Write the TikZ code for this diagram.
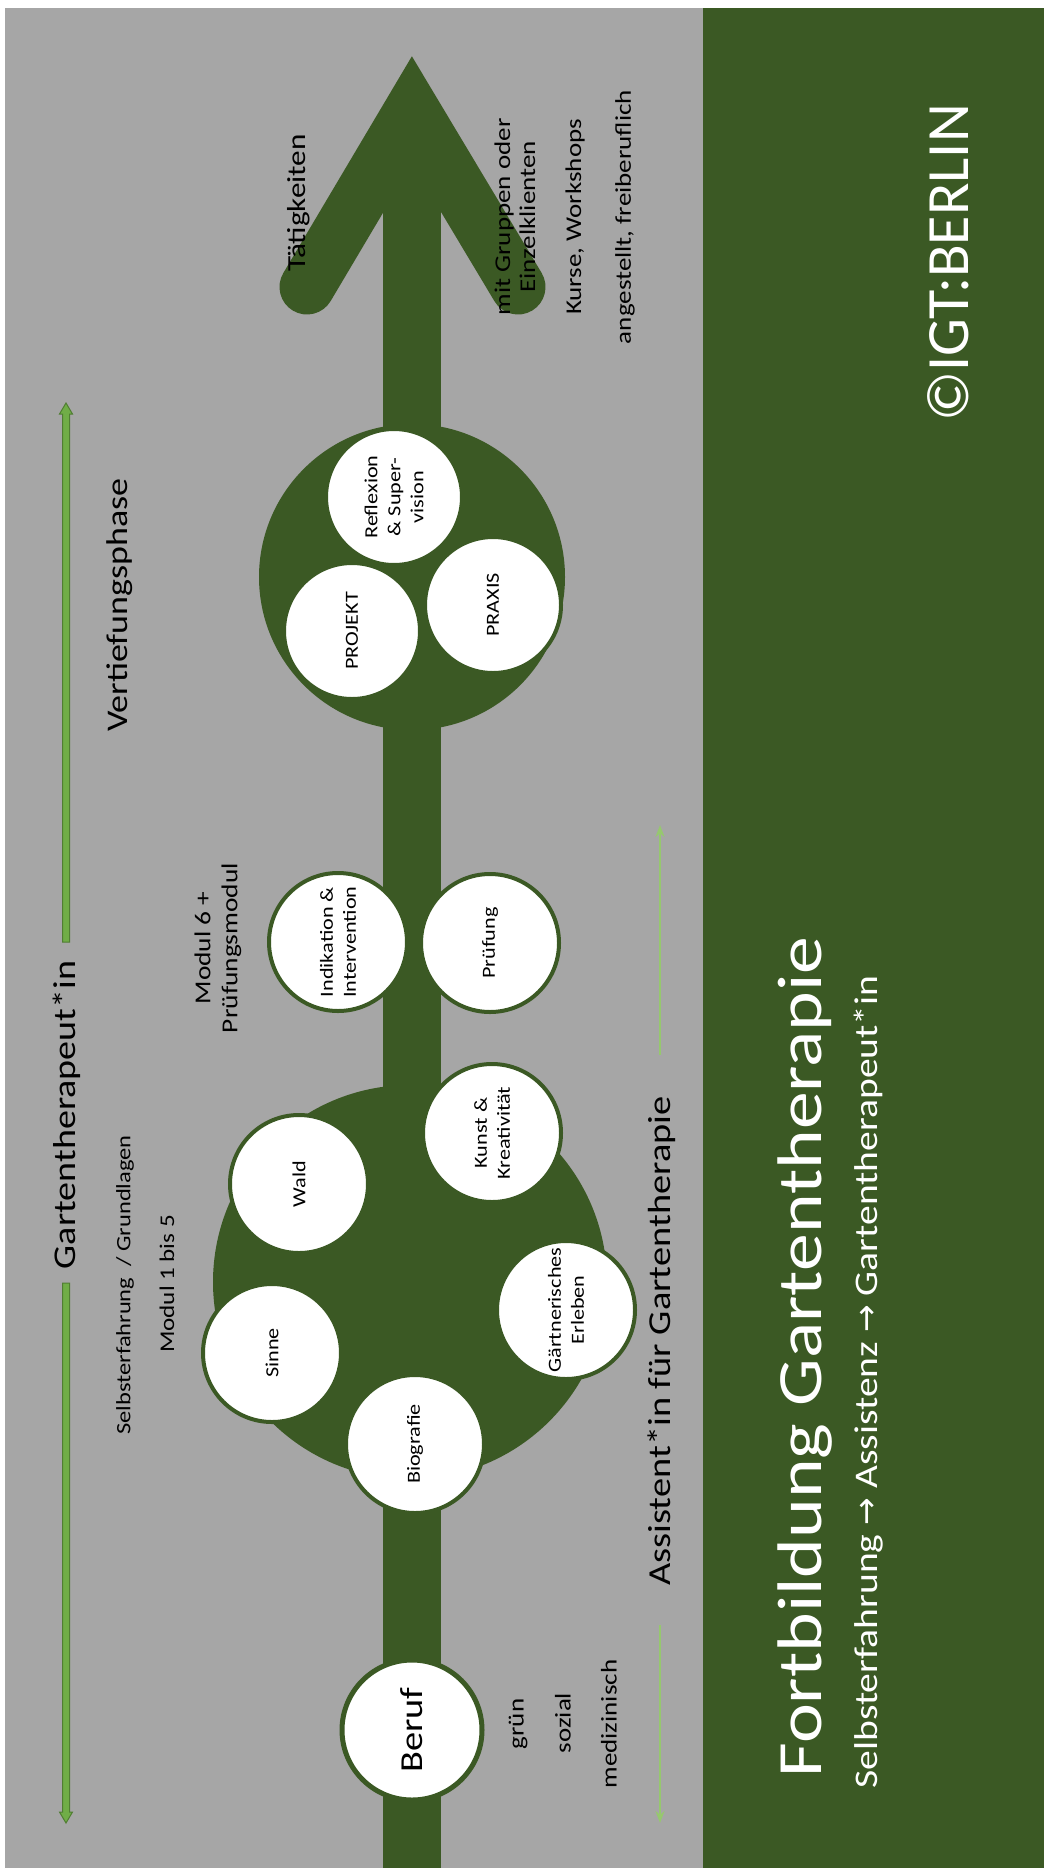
\documentclass[tikz,border=0pt]{standalone}
\usepackage{fontspec}
\setmainfont{Carlito}[FakeStretch=1.2]
\newfontfamily\plainfont{Carlito}
\newfontfamily\arrowfont{DejaVu Sans}
\usetikzlibrary{arrows.meta}
\definecolor{dkgreen}{RGB}{59,89,36}
\definecolor{bggray}{RGB}{166,166,166}
\definecolor{arrlight}{RGB}{112,173,71}
\definecolor{arrdark}{RGB}{80,126,50}
\definecolor{thinarr}{RGB}{150,200,110}
\begin{document}
\begin{tikzpicture}[x=1pt,y=-1pt,
  bigc/.style={circle, fill=dkgreen, inner sep=0pt},
  modc/.style={circle, fill=white, draw=dkgreen, line width=4pt, minimum size=138pt, inner sep=0pt, rotate=90, align=center, font=\fontsize{18.5}{23}\selectfont},
  lbl/.style={rotate=90, inner sep=0pt, text=black, align=center},
  wlbl/.style={rotate=90, inner sep=0pt, text=white, align=center}]
\useasboundingbox (0,0) rectangle (1044,1868);
\fill[white] (0,0) rectangle (1044,1868);
\fill[bggray] (5,8) rectangle (703,1868);
\fill[dkgreen] (703,8) rectangle (1044,1868);

% main arrow
\coordinate (tipL) at (307,287);
\coordinate (tipV) at (412,110);
\coordinate (tipR) at (518,287);
\coordinate (shaftEnd) at (412,1868);
\draw[dkgreen, line width=58pt] (tipV) -- (shaftEnd);
\draw[dkgreen, line width=55pt, line cap=round, line join=miter] (tipL) -- (tipV) -- (tipR);

% large circles
\node[bigc, minimum size=306pt] (vert) at (412,577) {};
\node[bigc, minimum size=394pt] (mods) at (410,1282) {};

% module circles
\node[modc, minimum size=136pt] (refl) at (394,497) {Reflexion\\\& Super-\\vision};
\node[modc, minimum size=136pt] (proj) at (352,631) {PROJEKT};
\node[modc, minimum size=136pt] (prax) at (493,605) {PRAXIS};
\node[modc] (indi) at (338,942) {Indikation \&\\Intervention};
\node[modc] (pruef) at (490,943) {Prüfung};
\node[modc] (kunst) at (492,1133) {Kunst \&\\Kreativität};
\node[modc] (wald) at (299,1184) {Wald};
\node[modc] (gaert) at (566,1310) {Gärtnerisches\\Erleben};
\node[modc] (sinne) at (272,1353) {Sinne};
\node[modc] (bio) at (415,1444) {Biografie};
\node[modc, line width=5pt, minimum size=140pt, font=\fontsize{32}{36}\selectfont] (beruf) at (412,1730) {Beruf};

% side arrows (top: double-headed block arrow interrupted by label)
\draw[fill=arrlight, draw=arrdark, line width=1pt] (66,403) -- (72.5,414) -- (69.5,414) -- (69.5,942) -- (62.5,942) -- (62.5,414) -- (59.5,414) -- cycle;
\draw[fill=arrlight, draw=arrdark, line width=1pt] (66,1823) -- (72.5,1812) -- (69.5,1812) -- (69.5,1283) -- (62.5,1283) -- (62.5,1812) -- (59.5,1812) -- cycle;
\coordinate (ba1) at (660,825);
\coordinate (ba2) at (660,1055);
\coordinate (ba3) at (660,1625);
\coordinate (ba4) at (660,1823);
\draw[thinarr, line width=2pt, -{Stealth[length=12pt,width=9pt]}] (ba2) -- (ba1);
\draw[thinarr, line width=2pt, -{Stealth[length=12pt,width=9pt]}] (ba3) -- (ba4);

% labels
\node[lbl, font=\fontsize{26}{30}\selectfont] (taet) at (299,203) {Tätigkeiten};
\node[lbl, font=\fontsize{22.5}{25}\selectfont] (grp) at (515,217) {mit Gruppen oder\\Einzelklienten};
\node[lbl, font=\fontsize{22.5}{25}\selectfont] (kurse) at (575,217) {Kurse, Workshops};
\node[lbl, font=\fontsize{22.5}{25}\selectfont] (anst) at (625,217) {angestellt, freiberuflich};
\node[lbl, font=\fontsize{30}{34}\selectfont] (vph) at (120,605) {Vertiefungsphase};
\node[lbl, font=\fontsize{31.7}{36}\selectfont] (gth) at (67,1115) {Gartentherapeut*in};
\node[lbl, font=\fontsize{20.4}{24}\selectfont] (selbst) at (125,1285) {Selbsterfahrung\ \ / Grundlagen};
\node[lbl, font=\fontsize{20.9}{24}\selectfont] (m15) at (167,1284) {Modul 1 bis 5};
\node[lbl, font=\fontsize{22.8}{27}\selectfont] (m6) at (218,948) {Modul 6 +\\Prüfungsmodul};
\node[lbl, font=\fontsize{32}{36}\selectfont] (assi) at (662,1341) {Assistent*in für Gartentherapie};
\node[lbl, font=\fontsize{22.5}{25}\selectfont] (gruen) at (518,1724) {grün};
\node[lbl, font=\fontsize{22.5}{25}\selectfont] (sozial) at (563,1723) {sozial};
\node[lbl, font=\fontsize{22.5}{25}\selectfont] (medi) at (609,1724) {medizinisch};

% green band
\node[wlbl, font=\plainfont\fontsize{60}{66}\selectfont] (igt) at (948,263) {©IGT:BERLIN};
\node[wlbl, font=\fontsize{63}{70}\selectfont] (title) at (805,1357) {Fortbildung Gartentherapie};
\node[wlbl, font=\fontsize{33}{38}\selectfont] (sub) at (869,1382) {Selbsterfahrung {\arrowfont →} Assistenz {\arrowfont →} Gartentherapeut*in};
\end{tikzpicture}
\end{document}
